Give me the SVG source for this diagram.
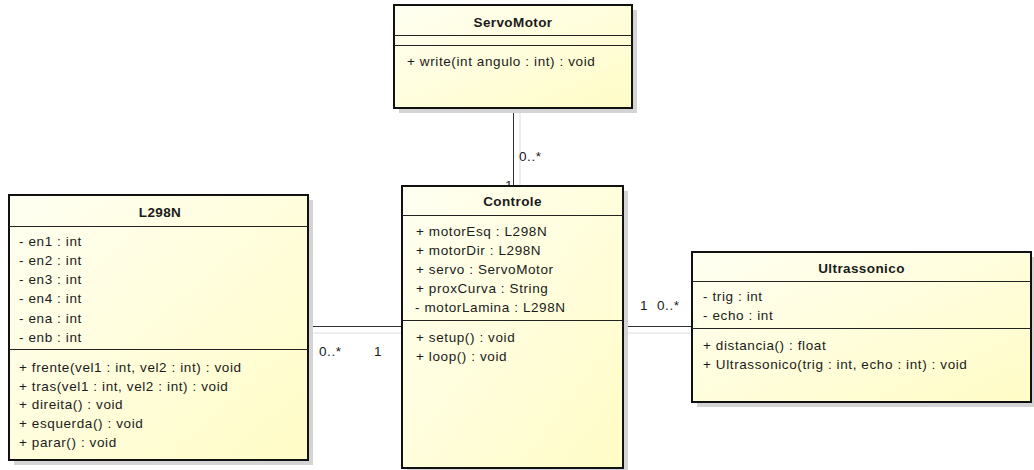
<svg xmlns="http://www.w3.org/2000/svg" width="1034" height="470" viewBox="0 0 1034 470">
<defs>
<linearGradient id="fill" x1="0" y1="0" x2="1" y2="1">
<stop offset="0" stop-color="#FFFFF2"/>
<stop offset="1" stop-color="#FFFCC6"/>
</linearGradient>
<style>
text{font-family:"Liberation Sans",Arial,sans-serif;font-size:13.5px;letter-spacing:0.6px;fill:#1a1a1a}
.title{font-weight:bold;text-anchor:middle;letter-spacing:0.4px}
.box{fill:url(#fill);stroke:#111;stroke-width:2}
.shadow{fill:#d4d4d4}
.sep{stroke:#222;stroke-width:1}
.conn{stroke:#333;stroke-width:1;fill:none}
.connsh{stroke:#dcdcdc;stroke-width:1;fill:none}
</style>
</defs>
<g id="connectors">
<line class="connsh" x1="520" y1="110" x2="520" y2="190"/>
<line class="connsh" x1="312" y1="333" x2="410" y2="333"/>
<line class="connsh" x1="628" y1="333" x2="700" y2="333"/>
<line class="conn" x1="513.5" y1="108" x2="513.5" y2="186"/>
<line class="conn" x1="308" y1="326.5" x2="402" y2="326.5"/>
<line class="conn" x1="623" y1="326.5" x2="692" y2="326.5"/>
<text x="519" y="161">0..*</text>
<text x="505" y="190">1</text>
<text x="319" y="356">0..*</text>
<text x="374" y="356">1</text>
<text x="640" y="310">1</text>
<text x="657" y="310">0..*</text>
</g>
<g id="ServoMotor">
<rect class="shadow" x="399" y="10" width="238" height="103"/>
<rect class="box" x="394" y="5" width="238" height="103"/>
<line class="sep" x1="394" y1="35.5" x2="632" y2="35.5"/>
<line class="sep" x1="394" y1="45.5" x2="632" y2="45.5"/>
<text class="title" x="513" y="27">ServoMotor</text>
<text x="407" y="66">+ write(int angulo : int) : void</text>
</g>
<g id="L298N">
<rect class="shadow" x="14" y="200" width="299" height="265"/>
<rect class="box" x="9" y="195" width="299" height="265"/>
<line class="sep" x1="9" y1="226.5" x2="308" y2="226.5"/>
<line class="sep" x1="9" y1="349.5" x2="308" y2="349.5"/>
<text class="title" x="160" y="217">L298N</text>
<text x="19" y="246">- en1 : int</text>
<text x="19" y="265">- en2 : int</text>
<text x="19" y="284">- en3 : int</text>
<text x="19" y="303">- en4 : int</text>
<text x="19" y="323">- ena : int</text>
<text x="19" y="342">- enb : int</text>
<text x="19" y="372">+ frente(vel1 : int, vel2 : int) : void</text>
<text x="19" y="391">+ tras(vel1 : int, vel2 : int) : void</text>
<text x="19" y="409">+ direita() : void</text>
<text x="19" y="428">+ esquerda() : void</text>
<text x="19" y="447">+ parar() : void</text>
</g>
<g id="Controle">
<rect class="shadow" x="407" y="191" width="221" height="282"/>
<rect class="box" x="402" y="186" width="221" height="282"/>
<line class="sep" x1="402" y1="215.5" x2="623" y2="215.5"/>
<line class="sep" x1="402" y1="320.5" x2="623" y2="320.5"/>
<text class="title" x="512.5" y="206">Controle</text>
<text x="416" y="236">+ motorEsq : L298N</text>
<text x="416" y="255">+ motorDir : L298N</text>
<text x="416" y="274">+ servo : ServoMotor</text>
<text x="416" y="293">+ proxCurva : String</text>
<text x="415" y="312">- motorLamina : L298N</text>
<text x="416" y="342">+ setup() : void</text>
<text x="416" y="361">+ loop() : void</text>
</g>
<g id="Ultrassonico">
<rect class="shadow" x="697" y="257" width="339" height="150"/>
<rect class="box" x="692" y="252" width="339" height="150"/>
<line class="sep" x1="692" y1="281.5" x2="1031" y2="281.5"/>
<line class="sep" x1="692" y1="328.5" x2="1031" y2="328.5"/>
<text class="title" x="861.5" y="273">Ultrassonico</text>
<text x="703" y="301">- trig : int</text>
<text x="703" y="320">- echo : int</text>
<text x="703" y="350">+ distancia() : float</text>
<text x="703" y="369">+ Ultrassonico(trig : int, echo : int) : void</text>
</g>
</svg>
